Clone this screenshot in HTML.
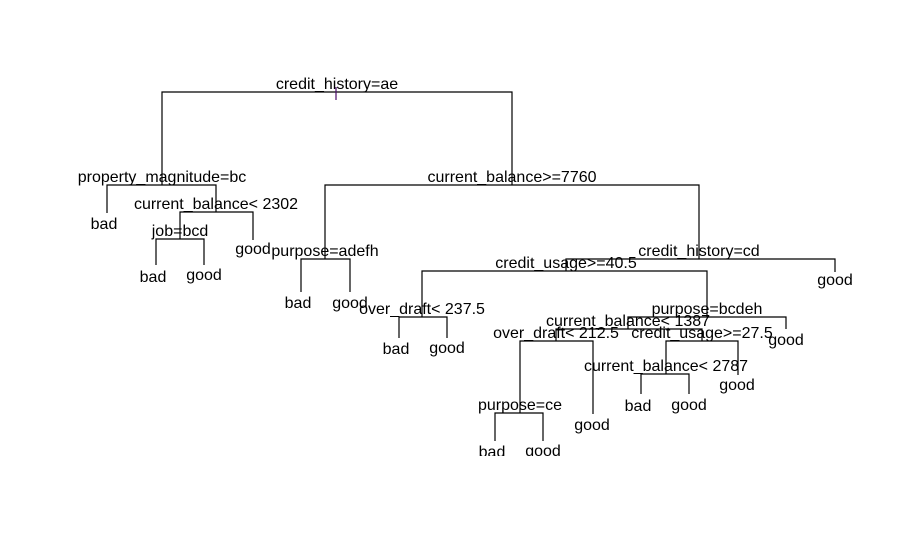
<!DOCTYPE html>
<html><head><meta charset="utf-8"><style>
html,body{margin:0;padding:0;background:#fff;}
svg{display:block;}
text{font-family:"Liberation Sans",Arial,sans-serif;font-size:16px;fill:#000;text-anchor:middle;}
</style></head><body>
<svg width="904" height="553" viewBox="0 0 904 553" xmlns="http://www.w3.org/2000/svg">
<defs><clipPath id="c"><rect x="0" y="0" width="904" height="456"/></clipPath></defs>
<g clip-path="url(#c)">
<g stroke="#000" stroke-width="1.2" fill="none">
<!-- root -->
<path d="M162 185V92H512V185"/>
<!-- property_magnitude -->
<path d="M107 213V185H216V212"/>
<!-- current_balance<2302 -->
<path d="M180 239V212H253V240"/>
<!-- job -->
<path d="M156 265V239H204V265"/>
<!-- current_balance>=7760 -->
<path d="M325 259V185H699V259"/>
<!-- purpose=adefh -->
<path d="M301 292V259H350V292"/>
<!-- credit_history=cd -->
<path d="M566 271V259H835V272"/>
<!-- credit_usage>=40.5 -->
<path d="M422 317V271H707V317"/>
<!-- over_draft<237.5 -->
<path d="M399 338V317H447V338"/>
<!-- purpose=bcdeh -->
<path d="M628 329V317H786V329"/>
<!-- current_balance<1387 -->
<path d="M556 341V329H702V341"/>
<!-- over_draft<212.5 -->
<path d="M520 413V341H593V414"/>
<!-- purpose=ce -->
<path d="M495 441V413H543V441"/>
<!-- credit_usage>=27.5 -->
<path d="M666 374V341H738V375"/>
<!-- current_balance<2787 -->
<path d="M641 394V374H689V394"/>
</g>
<line x1="336" y1="87" x2="336" y2="100" stroke="#4b0a6b" stroke-width="1.2"/>
<!-- node labels -->
<text x="337" y="89">credit_history=ae</text>
<text x="162" y="182">property_magnitude=bc</text>
<text x="216" y="209">current_balance&lt; 2302</text>
<text x="180" y="236">job=bcd</text>
<text x="512" y="182">current_balance&gt;=7760</text>
<text x="325" y="256">purpose=adefh</text>
<text x="699" y="256">credit_history=cd</text>
<text x="566" y="268">credit_usage&gt;=40.5</text>
<text x="422" y="314">over_draft&lt; 237.5</text>
<text x="707" y="314">purpose=bcdeh</text>
<text x="628" y="326">current_balance&lt; 1387</text>
<text x="556" y="338">over_draft&lt; 212.5</text>
<text x="702" y="338">credit_usage&gt;=27.5</text>
<text x="520" y="410">purpose=ce</text>
<text x="666" y="371">current_balance&lt; 2787</text>
<!-- leaves -->
<text x="104" y="229">bad</text>
<text x="253" y="254">good</text>
<text x="153" y="282">bad</text>
<text x="204" y="280">good</text>
<text x="298" y="308">bad</text>
<text x="350" y="308">good</text>
<text x="835" y="285">good</text>
<text x="396" y="354">bad</text>
<text x="447" y="353">good</text>
<text x="786" y="345">good</text>
<text x="737" y="390">good</text>
<text x="638" y="411">bad</text>
<text x="689" y="410">good</text>
<text x="592" y="430">good</text>
<text x="492" y="457">bad</text>
<text x="543" y="456">good</text>
</g>
</svg>
</body></html>
